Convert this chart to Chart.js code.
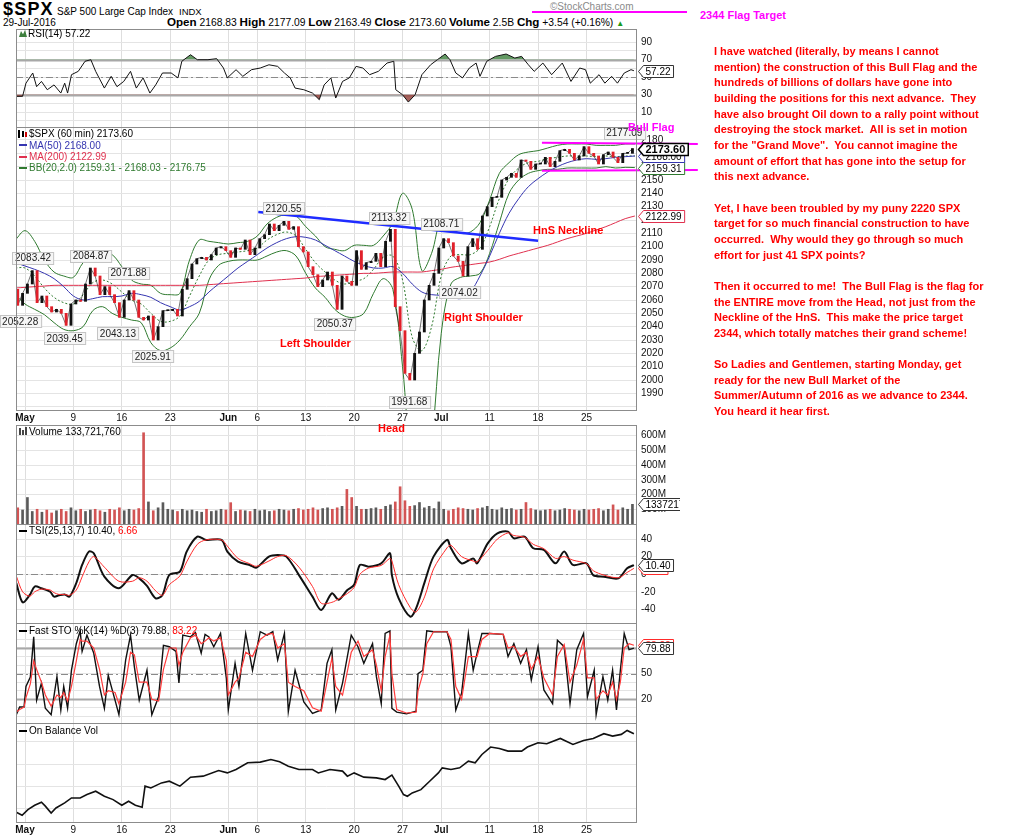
<!DOCTYPE html>
<html>
<head>
<meta charset="utf-8">
<title>$SPX S&amp;P 500 Large Cap Index - 60 min</title>
<script src="https://cdn.jsdelivr.net/npm/chart.js@4.4.1/dist/chart.umd.min.js"></script>
<style>
  html, body { margin: 0; padding: 0; background: #fff; }
  #page { position: relative; width: 1024px; height: 837px; overflow: hidden;
          font-family: "Liberation Sans", Arial, sans-serif; color: #000; }
  #page canvas { position: absolute; left: 0; }
  .txt { position: absolute; white-space: nowrap; font-size: 10px; line-height: 12px; }
  .mk { display: inline-block; width: 8px; height: 2px; vertical-align: middle; margin: 0 2px 1px 0; }
  .note { position: absolute; white-space: nowrap; font-weight: bold; font-size: 11px; line-height: 13px; color: #f00; }
  .pink { color: #ff00ff; }
  #story { position: absolute; left: 714px; top: 44px; font-weight: bold; font-size: 11px;
           line-height: 15.65px; color: #f00; white-space: pre; }
</style>
</head>
<body>
<div id="page">
  <!-- header -->
  <div class="txt" style="left:3px;top:0px;font-size:18px;line-height:19px;font-weight:bold;letter-spacing:1.2px">$SPX</div>
  <div class="txt" style="left:57px;top:6px;font-size:10px">S&amp;P 500 Large Cap Index</div>
  <div class="txt" style="left:179px;top:6px;font-size:9.5px">INDX</div>
  <div class="txt" style="left:3px;top:16.5px">29-Jul-2016</div>
  <div class="txt" style="left:167px;top:15px;font-size:10.3px;line-height:14px"><b style="font-size:11.6px">Open</b> 2168.83 <b style="font-size:11.6px">High</b> 2177.09 <b style="font-size:11.6px">Low</b> 2163.49 <b style="font-size:11.6px">Close</b> 2173.60 <b style="font-size:11.6px">Volume</b> 2.5B <b style="font-size:11.6px">Chg</b> +3.54 (+0.16%) <span style="color:#1a9a1a;font-size:8px">&#9650;</span></div>
  <div class="txt" style="left:550px;top:1px;color:#8a8a8a">&copy;StockCharts.com</div>
  <div style="position:absolute;left:532px;top:11px;width:155px;height:2px;background:#ff00ff"></div>
  <div class="note pink" style="left:700px;top:8.5px">2344 Flag Target</div>

  <canvas id="rsiChart" width="700" height="98" style="top:29px"></canvas>
  <canvas id="priceChart" width="720" height="297" style="top:127px"></canvas>
  <canvas id="volumeChart" width="680" height="99" style="top:425px"></canvas>
  <canvas id="tsiChart" width="700" height="99" style="top:524px"></canvas>
  <canvas id="stoChart" width="700" height="100" style="top:623px"></canvas>
  <canvas id="obvChart" width="700" height="113" style="top:723px"></canvas>

  <!-- panel legends -->
  <span style="position:absolute;left:19px;top:30px;width:8px;height:7px;background:#3d7f3d;clip-path:polygon(0 100%,25% 15%,50% 60%,75% 0,100% 100%)"></span>
  <div class="txt" style="left:28px;top:28px">RSI(14) 57.22</div>

  <span style="position:absolute;left:18px;top:130px;width:2px;height:8px;background:#000"></span>
  <span style="position:absolute;left:22px;top:131px;width:2px;height:6px;background:#000"></span>
  <span style="position:absolute;left:25px;top:132px;width:2px;height:5px;background:#c00"></span>
  <div class="txt" style="left:29px;top:128px">$SPX (60 min) 2173.60</div>
  <div class="txt" style="left:19px;top:139.5px;color:#3535b0"><span class="mk" style="background:#3535b0"></span>MA(50) 2168.00</div>
  <div class="txt" style="left:19px;top:151px;color:#e0304e"><span class="mk" style="background:#e0304e"></span>MA(200) 2122.99</div>
  <div class="txt" style="left:19px;top:162px;color:#2f7a2f"><span class="mk" style="background:#2f7a2f"></span>BB(20,2.0) 2159.31 - 2168.03 - 2176.75</div>

  <span style="position:absolute;left:19px;top:428px;width:2px;height:7px;background:#444"></span>
  <span style="position:absolute;left:22px;top:430px;width:2px;height:5px;background:#444"></span>
  <span style="position:absolute;left:25px;top:427px;width:2px;height:8px;background:#444"></span>
  <div class="txt" style="left:29px;top:426px">Volume 133,721,760</div>
  <div class="txt" style="left:19px;top:525px"><span class="mk" style="background:#000"></span>TSI(25,13,7) 10.40, <span style="color:#f00">6.66</span></div>
  <div class="txt" style="left:19px;top:625px"><span class="mk" style="background:#000"></span>Fast STO %K(14) %D(3) 79.88, <span style="color:#f00">83.22</span></div>
  <div class="txt" style="left:19px;top:725px"><span class="mk" style="background:#000"></span>On Balance Vol</div>

  <!-- chart notes -->
  <div class="note" style="left:280px;top:336.5px">Left Shoulder</div>
  <div class="note" style="left:444px;top:310.5px">Right Shoulder</div>
  <div class="note" style="left:533px;top:223.5px">HnS Neckline</div>
  <div class="note" style="left:378px;top:421.5px">Head</div>
  <div class="note pink" style="left:628px;top:120.5px">Bull Flag</div>

  <div id="story">I have watched (literally, by means I cannot
mention) the construction of this Bull Flag and the
hundreds of billions of dollars have gone into
building the positions for this next advance.  They
have also brought Oil down to a rally point without
destroying the stock market.  All is set in motion
for the "Grand Move".  You cannot imagine the
amount of effort that has gone into the setup for
this next advance.

Yet, I have been troubled by my puny 2220 SPX
target for so much financial construction to have
occurred.  Why would they go through so much
effort for just 41 SPX points?

Then it occurred to me!  The Bull Flag is the flag for
the ENTIRE move from the Head, not just from the
Neckline of the HnS.  This make the price target
2344, which totally matches their grand scheme!

So Ladies and Gentlemen, starting Monday, get
ready for the new Bull Market of the
Summer/Autumn of 2016 as we advance to 2344.
You heard it hear first.</div>
</div>

<script>
const FONT = '"Liberation Sans", Arial, sans-serif';
const DAY_MIN = -0.93;
const DAY_MAX = 63.22;
const PLOT_LEFT = 16;
const PLOT_RIGHT = 637;

// trading-day index: 0 = Mon 2 May 2016, -1 = Fri 29 Apr
const tickDays = [0, 5, 10, 15, 21, 24, 29, 34, 39, 43, 48, 53, 58];
const tickLabels = ['May', '9', '16', '23', 'Jun', '6', '13', '20', '27', 'Jul', '11', '18', '25'];
const monthLabels = ['May', 'Jun', 'Jul'];

// $SPX, two readings per session (midday, close), 29 Apr .. 29 Jul
const spxFirstOpen = 2068;
const spxClose = [
  2056, 2065,
  2072, 2082, 2058, 2063, 2055, 2051, 2053, 2050, 2041, 2057,
  2060, 2059, 2072, 2084, 2078, 2064, 2070, 2064, 2058, 2047,
  2060, 2067, 2060, 2047, 2045, 2048, 2030, 2040, 2052, 2052,
  2053, 2048, 2068, 2076, 2087, 2091, 2092, 2090, 2094, 2099,
  2100, 2097, 2092, 2099, 2098, 2105, 2094, 2099,
  2106, 2109, 2117, 2112, 2116, 2119, 2113, 2115, 2100, 2096,
  2085, 2079, 2070, 2075, 2081, 2071, 2053, 2078, 2074, 2071,
  2097, 2083, 2088, 2089, 2095, 2085, 2104, 2113, 2055, 2037,
  2005, 2000, 2020, 2036, 2060, 2071, 2080, 2099, 2106, 2103,
  2093, 2089, 2078, 2100, 2106, 2098, 2123, 2130,
  2137, 2137, 2150, 2152, 2155, 2152, 2165, 2164, 2158, 2162,
  2162, 2167, 2160, 2164, 2172, 2173, 2170, 2165, 2168, 2175,
  2170, 2168, 2162, 2169, 2171, 2167, 2163, 2170, 2170, 2173.6,
];

// volume in millions, same half-session bars
const volume = [
  110, 95,
  180, 85, 100, 80, 95, 75, 90, 100, 85, 110,
  90, 100, 85, 95, 100, 90, 80, 100, 95, 110,
  90, 100, 95, 105, 620, 150, 90, 110, 145, 100,
  95, 85, 100, 90, 95, 85, 80, 100, 85, 90,
  100, 95, 145, 85, 95, 90, 85, 100,
  90, 95, 85, 90, 100, 95, 90, 100, 105, 95,
  100, 110, 95, 105, 110, 100, 110, 120, 235, 180,
  120, 100, 100, 105, 110, 100, 120, 130, 150, 253,
  158, 120, 125, 146, 110, 120, 105, 150, 100, 90,
  100, 110, 105, 100, 95, 105, 110, 120,
  100, 95, 110, 100, 105, 95, 100, 146, 105, 95,
  90, 95, 100, 90, 95, 105, 100, 95, 90, 100,
  95, 100, 105, 90, 100, 130, 95, 110, 100, 133.72,
];

// overlays read once per session boundary, day -1 .. 63
const ma50 = [
  2088, 2085.5, 2083, 2080, 2076, 2070, 2063, 2060, 2061, 2062.5, 2062.5, 2063, 2065,
  2064, 2062, 2058, 2055, 2052.5, 2055, 2059, 2066, 2072, 2078, 2084, 2089, 2094,
  2099, 2103, 2106, 2107.5, 2107, 2105, 2101, 2097, 2093, 2089, 2086, 2084, 2084,
  2085, 2080, 2072, 2066, 2064, 2063.5, 2062.5, 2061, 2066, 2078, 2093, 2110, 2125,
  2136, 2145, 2151, 2156, 2160, 2163, 2165, 2166, 2165.5, 2166, 2167, 2167.5, 2168,
];
const ma200 = [
  2069, 2069.5, 2070, 2070.5, 2071, 2071, 2071, 2071, 2071, 2071, 2071, 2071, 2071,
  2071, 2071, 2071, 2071, 2071, 2071, 2071, 2071.5, 2072, 2072.5, 2073, 2073.5, 2074,
  2074.5, 2075, 2075.5, 2076, 2076.5, 2077.5, 2078, 2078.5, 2079, 2079.5, 2080, 2080,
  2080.5, 2081, 2081, 2081, 2081, 2082, 2083, 2084.5, 2085.5, 2086.5, 2087.5, 2088.5,
  2090.5, 2093, 2095, 2097, 2099, 2101, 2103.5, 2106, 2108, 2110, 2112.5, 2115, 2118,
  2121, 2123,
];
const bbUpper = [
  2105, 2112, 2104, 2090, 2081, 2078, 2077, 2088, 2094, 2095, 2094, 2085, 2075,
  2072, 2071, 2065, 2064, 2065, 2090, 2105, 2104, 2103, 2102, 2103, 2104, 2108,
  2117, 2122, 2124, 2123, 2115, 2108, 2100, 2098, 2097, 2101, 2101, 2101, 2108,
  2118, 2140, 2128, 2082, 2095, 2120, 2114, 2110, 2111, 2118, 2135, 2155, 2163,
  2169, 2171, 2172, 2174, 2176, 2177, 2177, 2177, 2176, 2176, 2176, 2177, 2177,
];
const bbMiddle = [
  2084, 2084, 2078, 2069, 2062, 2058, 2057, 2064, 2073, 2075, 2072, 2066, 2060,
  2057, 2050, 2044, 2044, 2048, 2063, 2078, 2090, 2094, 2095, 2096, 2097, 2099,
  2105, 2109, 2111, 2108, 2098, 2088, 2081, 2075, 2072, 2074, 2076, 2083, 2092,
  2093, 2075, 2032, 2022, 2040, 2078, 2093, 2094, 2094, 2099, 2115, 2136, 2151,
  2159, 2163, 2164, 2166, 2167, 2168, 2168, 2168, 2167.5, 2168, 2167.5, 2168, 2168,
];
const bbLower = [
  2064, 2057, 2053, 2049, 2043, 2038, 2037, 2040, 2052, 2055, 2050, 2047, 2045,
  2043, 2028, 2022, 2024, 2030, 2040, 2050, 2075, 2086, 2089, 2090, 2090, 2090,
  2093, 2096, 2097, 2093, 2080, 2069, 2062, 2053, 2048, 2047, 2050, 2065, 2076,
  2068, 2010, 1935, 1925, 1955, 2035, 2072, 2077, 2078, 2080, 2095, 2118, 2140,
  2150, 2155, 2157, 2158, 2158, 2159, 2159, 2159, 2159, 2160, 2159, 2159.5, 2159.3,
];

// price labels printed on the chart
const peakDays = [-0.5, 0.83, 4.1, 6.8, 9.6, 10.7, 13.2, 26.7, 32, 37.6, 39.7, 43, 44.9, 61.9];
const peakValues = [2052.28, 2083.42, 2039.45, 2084.87, 2043.13, 2071.88, 2025.91, 2120.55,
  2050.37, 2113.32, 1991.68, 2108.71, 2074.02, 2177.09];
const peakBelow = [true, false, true, false, true, false, true, false, true, false, true, false, true, false];

// hand-drawn lines
const necklineDays = [24.1, 53];
const necklineValues = [2126, 2104.5];
const flagDays = [53.4, 69.5];
const flagTop = [2178, 2177];
const flagBottom = [2157, 2157.5];

// RSI(14)
const rsiDays = [-0.9, -0.25, 0.1, 0.8, 1.2, 1.7, 2.3, 3, 3.7, 4.1, 4.4, 4.8, 5.5, 6.2, 6.8,
  7.3, 8.2, 8.9, 9.5, 10.2, 10.9, 11.5, 12.2, 12.9, 13.5, 14.2, 15.1, 15.8, 16.2, 17.1, 17.8,
  18.9, 19.8, 20.5, 20.9, 21.8, 22.5, 23.4, 24.3, 25.2, 26.1, 26.8, 27.4, 27.9, 28.8, 29.7,
  30.4, 30.9, 31.6, 32.1, 32.8, 33.5, 34.2, 34.9, 35.6, 36.5, 37.4, 38.1, 38.3, 39, 39.6,
  40.3, 41, 41.9, 42.6, 43.4, 43.9, 44.5, 45.2, 45.9, 46.6, 47, 47.7, 48.6, 49.7, 50.6,
  51.3, 52, 52.6, 53.5, 54.4, 55.5, 56.4, 57.3, 57.9, 58.4, 59.3, 59.9, 60.6, 61.2, 61.9,
  62.6, 62.9];
const rsi = [27.9, 28, 43, 54.6, 39, 45, 35.5, 41, 31.7, 43, 31.7, 52.7, 56.5, 68, 69.8,
  56.5, 37.4, 50.8, 39, 45, 56.5, 37.4, 49, 31.7, 41, 54.6, 54.6, 49, 68, 75.5, 69.8,
  69.8, 71, 60.3, 49, 58.4, 50.8, 58.4, 60.3, 64, 62.2, 54.6, 49, 37.4, 35.5, 31.7,
  24.1, 41, 49, 26, 45, 49, 62.2, 60.3, 52.7, 56.5, 66, 68, 35.5, 29.8, 21.4,
  29.8, 52.7, 64, 69.8, 76.3, 69.8, 54.6, 49, 60.3, 66, 50.8, 68, 73.6, 76.3, 71.7,
  73.6, 64, 56.5, 66, 52.7, 66, 45, 60.3, 58.4, 43, 52.7, 43, 50.8, 43, 54.6,
  58.4, 57.22];

// TSI(25,13,7) and its signal line
const tsiDays = [-0.9, -0.25, 0.5, 1, 1.7, 2.6, 3, 3.5, 4.1, 4.6, 5.3, 5.9, 6.6, 7.1, 8.2,
  9.7, 11.1, 11.8, 12.6, 13.5, 14.2, 14.9, 16, 16.7, 17.8, 18.7, 20.3, 20.9, 22, 23.2,
  23.9, 25.2, 26.1, 27, 28.3, 29.7, 30.6, 31.7, 32.4, 33.3, 34, 34.6, 35.5, 36.8, 37.7,
  37.9, 38.6, 39.8, 40.4, 41.3, 42.2, 43.6, 44, 45.1, 46.3, 46.7, 47.8, 48.8, 49.9, 50.5,
  51.6, 52.5, 53.6, 54.8, 55.7, 56.6, 58, 58.7, 59.8, 61.3, 62.2, 62.9];
const tsi = [-10, -32, -23.6, -14, -16, -20, -25.5, -24, -23, -25.5, -10, 10.5, 25.7, 23.8, -2.8,
  -16, -0.9, -4.7, -13.4, -27.4, -23.6, -0.9, 3, 25.7, 42.7, 39, 39, 25.7, 14.3, 10.5,
  7.5, 20, 21.9, 20, -1, -25.5, -40.7, -21.7, -29, -18, -12, 10.5, 8.6, 12.4, 23.8,
  -1, -27.4, -48.3, -38.8, -8.5, 20, 39, 29.5, 12.4, 18, 12.4, 35, 46.5, 48.4, 40.8,
  42.7, 29.5, 27.6, 12.4, 25.7, 10.5, 12.4, -1, -2.8, -4.7, 6.7, 10.4];
const tsiSignal = [-2, -20, -25, -20, -17, -18, -21, -23, -23, -24, -18, -3, 14, 20, 8,
  -8, -8, -4, -8, -19, -24, -12, -2, 14, 34, 39, 39, 32, 18, 12,
  9, 15, 20, 21, 8, -14, -33, -32, -28, -22, -15, 0, 7, 10, 18,
  15, -12, -38, -43, -25, 6, 30, 33, 20, 15, 14, 27, 40, 47, 44,
  42, 34, 29, 18, 20, 16, 12, 4, -1, -4, 2, 6.66];

// Fast STO %K(14) %D(3)
const stoDays = [-0.9, -0.55, -0.1, 0.1, 0.55, 0.9, 1.2, 1.7, 2.1, 2.7,
  3.3, 3.7, 4, 4.4, 4.8, 5.3, 5.7, 5.9, 6.4, 7.1,
  7.7, 8.2, 8.6, 9.3, 9.7, 10.4, 10.9, 11.3, 11.8, 12.6,
  13.1, 13.8, 14.3, 14.9, 15.6, 15.9, 16.3, 17.1, 17.6, 18.2,
  18.6, 19, 19.5, 20.2, 20.8, 21, 21.7, 22.1, 22.8, 23.5,
  24.3, 25, 25.6, 26.1, 26.8, 27.2, 27.9, 28.8, 29.7, 30.6,
  31.2, 31.7, 32.1, 32.8, 33.7, 34.4, 35, 35.9, 36.3, 36.8,
  37.2, 37.7, 37.9, 38.4, 39.4, 40.4, 40.6, 41.1, 41.5, 42.2,
  43.6, 44, 44.5, 45.1, 45.8, 46.3, 46.7, 47.2, 48, 49.4,
  49.9, 50.5, 51.2, 51.8, 52.3, 53, 53.6, 54.5, 55, 55.7,
  56.3, 57, 57.7, 58.1, 58.8, 59, 59.7, 60.2, 60.7, 61.1,
  61.5, 61.9, 62.4, 62.9];
const stoK = [2, 11, 11, 35, 46, 93, 19, 39, 9.5, 2,
  46.5, 7.5, 35, 9.5, 54, 85, 100, 76, 95, 74,
  35, 9.5, 48, 19, 2, 66, 95, 58, 19, 54,
  2, 23, 83, 81.5, 76, 39, 95, 93, 98, 74,
  96, 93, 81.5, 97, 44.5, 7.5, 62, 35, 97, 54,
  99, 95, 99, 66, 97, 5.6, 54, 17, 3.6, 7.5,
  62, 78, 7.5, 39, 95, 81.5, 62, 85, 46.5, 15,
  97, 100, 9.5, 5, 3, 6, 50, 54, 100, 99,
  99, 81.5, 7.5, 27, 97, 54, 74, 97, 97, 96,
  70, 85, 62, 78, 42.6, 81.5, 31, 15, 89, 81.5,
  15, 78, 97, 23, 54, 2, 46.5, 19, 54, 7.5,
  54, 97, 78, 79.88];
const stoD = [5, 8, 11, 22, 38, 65, 55, 40, 25, 12,
  25, 22, 28, 18, 35, 65, 90, 88, 88, 80,
  55, 25, 30, 28, 15, 40, 75, 72, 40, 40,
  20, 18, 55, 80, 80, 60, 75, 92, 95, 85,
  88, 92, 88, 92, 65, 25, 40, 45, 75, 70,
  90, 96, 97, 80, 85, 40, 35, 30, 10, 6,
  40, 68, 35, 25, 75, 88, 70, 78, 60, 30,
  70, 95, 50, 8, 4, 5, 30, 50, 85, 99,
  99, 90, 35, 20, 70, 70, 70, 90, 97, 96,
  80, 82, 70, 75, 55, 70, 45, 25, 70, 84,
  40, 60, 90, 45, 45, 20, 30, 25, 40, 20,
  40, 80, 85, 83.22];

// On Balance Volume (relative units, no scale printed)
const obvDays = [-0.9, -0.3, 0.3, 1, 1.7, 2.1, 2.7, 3.2, 4.1, 4.8,
  5.7, 6.4, 7.3, 8.2, 9.1, 10, 10.7, 11.4, 12.1, 12.4,
  13, 14.1, 14.9, 16, 17.1, 18.4, 20, 20.9, 21.8, 23,
  24.3, 25.4, 26.3, 27.2, 28.3, 29.7, 30.3, 31.5, 32.8, 33.3,
  34, 35, 36.3, 37.2, 37.9, 38.6, 39.1, 39.5, 40, 40.9,
  41.8, 42.7, 43.1, 44, 44.9, 45.8, 46.5, 47.2, 48.1, 49,
  49.9, 51.3, 51.9, 53, 53.9, 55.3, 56.6, 57.7, 58.7, 59.8,
  60.7, 61.6, 62.2, 62.9];
const obv = [9.8, 6.8, 12.5, 16.9, 20, 16, 9.1, 14.2, 19.3, 24.3,
  24.3, 27.7, 31.1, 26, 22.6, 16.9, 21, 16.9, 14.9, 36.2,
  34.4, 39.5, 41.2, 36.2, 45.3, 46.3, 52, 49.6, 53, 59.8,
  60.5, 63.1, 60.8, 56.4, 53, 53, 49.6, 53, 51.4, 46.3,
  49.6, 45.3, 44.6, 42.9, 47.3, 36.2, 27.7, 26, 29.4, 32.7,
  41.2, 49.6, 54.7, 53, 54.7, 61.5, 59.8, 68.2, 75.7, 74.3,
  71.6, 71.6, 75.7, 80, 79, 84.4, 78.3, 82.4, 84.4, 89.2,
  86.8, 88.5, 92.5, 89.2];

const RED = '#e0202a';
const UP = '#111';
const GREEN = '#2f7a2f';
const BLUE = '#3535b0';
const MA200_RED = '#e0304e';

const pts = (xs, ys) => ys.map((y, i) => ({ x: xs[i], y }));

// extra drawing: reference lines, frame, value tags, price labels, drawn lines
const panelExtras = {
  id: 'panelExtras',
  beforeDatasetsDraw(chart, args, opts) {
    const { ctx, chartArea: a } = chart;
    const y = chart.scales.y;
    (opts.refLines || []).forEach((r) => {
      const py = Math.round(y.getPixelForValue(r.value)) + 0.5;
      ctx.save();
      ctx.strokeStyle = r.color;
      ctx.lineWidth = r.width;
      ctx.setLineDash(r.dash || []);
      ctx.beginPath();
      ctx.moveTo(a.left, py);
      ctx.lineTo(a.right, py);
      ctx.stroke();
      ctx.restore();
    });
  },
  afterDatasetsDraw(chart, args, opts) {
    const { ctx } = chart;
    const { x, y } = chart.scales;
    (opts.segments || []).forEach((s) => {
      ctx.save();
      ctx.strokeStyle = s.color;
      ctx.lineWidth = s.width;
      ctx.beginPath();
      ctx.moveTo(x.getPixelForValue(s.days[0]), y.getPixelForValue(s.values[0]));
      ctx.lineTo(x.getPixelForValue(s.days[1]), y.getPixelForValue(s.values[1]));
      ctx.stroke();
      ctx.restore();
    });
    if (opts.peaks) {
      ctx.save();
      ctx.font = '10px ' + FONT;
      ctx.textAlign = 'center';
      ctx.textBaseline = 'middle';
      opts.peaks.days.forEach((d, i) => {
        const text = opts.peaks.values[i].toFixed(2);
        const px = x.getPixelForValue(d);
        const py = y.getPixelForValue(opts.peaks.values[i]) + (opts.peaks.below[i] ? 11 : -11);
        const w = ctx.measureText(text).width + 5;
        ctx.fillStyle = '#f6f6f6';
        ctx.strokeStyle = '#c4c4c4';
        ctx.lineWidth = 1;
        ctx.fillRect(Math.round(px - w / 2) + 0.5, Math.round(py - 6) + 0.5, w, 12);
        ctx.strokeRect(Math.round(px - w / 2) + 0.5, Math.round(py - 6) + 0.5, w, 12);
        ctx.fillStyle = '#222';
        ctx.fillText(text, px, py + 0.5);
      });
      ctx.restore();
    }
  },
  afterDraw(chart, args, opts) {
    const { ctx, chartArea: a } = chart;
    const y = chart.scales.y;
    ctx.save();
    ctx.strokeStyle = '#8c8c8c';
    ctx.lineWidth = 1;
    ctx.strokeRect(a.left + 0.5, a.top + 0.5, a.right - a.left - 1, a.bottom - a.top);
    (opts.tags || []).forEach((t) => {
      const py = Math.round(y.getPixelForValue(t.value)) + 0.5;
      ctx.font = (t.bold ? 'bold 11px ' : '10px ') + FONT;
      const w = ctx.measureText(t.text).width + 5;
      const x0 = a.right + 1.5;
      ctx.beginPath();
      ctx.moveTo(x0, py);
      ctx.lineTo(x0 + 5, py - 6);
      ctx.lineTo(x0 + 5 + w, py - 6);
      ctx.lineTo(x0 + 5 + w, py + 6);
      ctx.lineTo(x0 + 5, py + 6);
      ctx.closePath();
      ctx.fillStyle = '#fff';
      ctx.fill();
      ctx.strokeStyle = t.color;
      ctx.lineWidth = t.bold ? 1.5 : 1;
      ctx.stroke();
      ctx.fillStyle = t.textColor || '#000';
      ctx.textAlign = 'left';
      ctx.textBaseline = 'middle';
      ctx.fillText(t.text, x0 + 7, py + 0.5);
    });
    ctx.restore();
  },
};
Chart.register(panelExtras);

// keep the plot rectangles exactly where the panels sit: no label overhang padding
function noOverhang(s) {
  s.paddingTop = 0;
  s.paddingBottom = 0;
  s.paddingLeft = 0;
  s.paddingRight = 0;
}

function dayAxis(showLabels) {
  return {
    type: 'linear',
    min: DAY_MIN,
    max: DAY_MAX,
    offset: false,
    afterBuildTicks: (s) => { s.ticks = tickDays.map((v) => ({ value: v })); },
    afterFit: (s) => { s.height = showLabels ? 14 : 0; noOverhang(s); },
    grid: { color: '#dedede', drawTicks: false, offset: false },
    border: { display: false },
    ticks: {
      display: showLabels,
      autoSkip: false,
      maxRotation: 0,
      padding: 2,
      color: '#111',
      callback: (v, i) => tickLabels[i],
      font: (c) => ({
        family: FONT,
        size: 10,
        weight: monthLabels.includes(tickLabels[c.index]) ? 'bold' : 'normal',
      }),
    },
  };
}

function valueAxis(min, max, tickValues, label) {
  return {
    position: 'right',
    min,
    max,
    afterBuildTicks: (s) => { s.ticks = tickValues.map((v) => ({ value: v })); },
    afterFit: (s) => { s.width = s.chart.width - PLOT_RIGHT; noOverhang(s); },
    grid: { color: '#e4e4e4', drawTicks: false },
    border: { display: false },
    ticks: {
      display: !!label,
      autoSkip: false,
      padding: 4,
      color: '#111',
      font: { family: FONT, size: 10 },
      callback: label || (() => ''),
    },
  };
}

function panelOptions(xAxis, yAxis, extras) {
  return {
    responsive: false,
    animation: false,
    events: [],
    layout: { padding: { left: PLOT_LEFT, right: 0, top: 0, bottom: 0 } },
    plugins: {
      legend: { display: false },
      tooltip: { enabled: false },
      panelExtras: extras,
    },
    scales: { x: xAxis, y: yAxis },
  };
}

function lineSet(data, color, width, extra) {
  return Object.assign({
    type: 'line',
    data,
    borderColor: color,
    borderWidth: width,
    pointRadius: 0,
    tension: 0,
    fill: false,
  }, extra || {});
}

document.addEventListener('DOMContentLoaded', () => {
  const halfDay = spxClose.map((_, i) => i * 0.5 - 0.75);
  const bandDays = ma50.map((_, i) => i - 1);
  const opens = spxClose.map((c, i) => (i ? spxClose[i - 1] : spxFirstOpen));
  const barColors = spxClose.map((c, i) => (c < opens[i] ? RED : UP));
  const volColors = spxClose.map((c, i) => (c < opens[i] ? '#d25454' : '#5a5a5a'));

  // RSI
  new Chart(document.getElementById('rsiChart'), {
    type: 'line',
    data: {
      datasets: [
        lineSet(pts(rsiDays, rsi), '#111', 1, {
          fill: { target: { value: 70 }, above: 'rgba(70,135,70,0.85)', below: 'rgba(0,0,0,0)' },
        }),
        lineSet(pts(rsiDays, rsi), 'rgba(0,0,0,0)', 0, {
          fill: { target: { value: 30 }, above: 'rgba(0,0,0,0)', below: 'rgba(150,70,65,0.85)' },
        }),
      ],
    },
    options: panelOptions(
      dayAxis(false),
      valueAxis(-7.1, 104.9, [0, 10, 20, 30, 40, 50, 60, 70, 80, 90],
        (v) => ([10, 30, 50, 70, 90].includes(v) ? String(v) : '')),
      {
        refLines: [
          { value: 70, color: '#a8a8a8', width: 2 },
          { value: 30, color: '#a8a8a8', width: 2 },
          { value: 50, color: '#8a8a8a', width: 1, dash: [7, 3, 2, 3] },
        ],
        tags: [{ value: 57.22, text: '57.22', color: '#333' }],
      }
    ),
  });

  // price panel
  new Chart(document.getElementById('priceChart'), {
    type: 'bar',
    data: {
      datasets: [
        {
          type: 'bar',
          data: spxClose.map((c, i) => ({ x: halfDay[i], y: [opens[i], c] })),
          backgroundColor: barColors,
          barThickness: 2.2,
          minBarLength: 1,
          grouped: false,
          order: 0,
        },
        lineSet(pts(halfDay, spxClose), 'rgba(0,0,0,0.55)', 1, { order: 1 }),
        lineSet(pts(bandDays, ma50), BLUE, 1, { tension: 0.35, order: 2 }),
        lineSet(pts(bandDays, ma200), MA200_RED, 1, { tension: 0.35, order: 2 }),
        lineSet(pts(bandDays, bbUpper), GREEN, 1, { tension: 0.35, order: 3 }),
        lineSet(pts(bandDays, bbLower), GREEN, 1, { tension: 0.35, order: 3 }),
        lineSet(pts(bandDays, bbMiddle), GREEN, 1, { tension: 0.35, borderDash: [2, 2], order: 3 }),
      ],
    },
    options: panelOptions(
      dayAxis(true),
      valueAxis(1977.5, 2189.75,
        [1980, 1990, 2000, 2010, 2020, 2030, 2040, 2050, 2060, 2070, 2080, 2090, 2100,
          2110, 2120, 2130, 2140, 2150, 2160, 2170, 2180],
        (v) => (v === 1980 ? '' : String(v))),
      {
        segments: [
          { days: necklineDays, values: necklineValues, color: '#1f2cff', width: 2.5 },
          { days: flagDays, values: flagTop, color: '#ff00ff', width: 2 },
          { days: flagDays, values: flagBottom, color: '#ff00ff', width: 2 },
        ],
        peaks: { days: peakDays, values: peakValues, below: peakBelow },
        tags: [
          { value: 2122.99, text: '2122.99', color: MA200_RED },
          { value: 2159.31, text: '2159.31', color: GREEN },
          { value: 2168.0, text: '2168.00', color: BLUE },
          { value: 2173.6, text: '2173.60', color: '#000', bold: true },
        ],
      }
    ),
  });

  // volume
  new Chart(document.getElementById('volumeChart'), {
    type: 'bar',
    data: {
      datasets: [{
        data: pts(halfDay, volume),
        backgroundColor: volColors,
        barThickness: 2,
        grouped: false,
      }],
    },
    options: panelOptions(
      dayAxis(false),
      valueAxis(0, 672.6, [100, 200, 300, 400, 500, 600], (v) => v + 'M'),
      { tags: [{ value: 133.72, text: '133721760', color: '#333' }] }
    ),
  });

  // TSI
  new Chart(document.getElementById('tsiChart'), {
    type: 'line',
    data: {
      datasets: [
        lineSet(pts(tsiDays, tsiSignal), '#ff2a2a', 1, { tension: 0.3 }),
        lineSet(pts(tsiDays, tsi), '#111', 2, { tension: 0.3 }),
      ],
    },
    options: panelOptions(
      dayAxis(false),
      valueAxis(-55.5, 57.1, [-40, -20, 0, 20, 40], (v) => String(v)),
      {
        refLines: [{ value: 0, color: '#8a8a8a', width: 1, dash: [7, 3, 2, 3] }],
        tags: [
          { value: 6.66, text: '6.66', color: '#ff2a2a', textColor: '#ff2a2a' },
          { value: 10.4, text: '10.40', color: '#333' },
        ],
      }
    ),
  });

  // Fast stochastics
  new Chart(document.getElementById('stoChart'), {
    type: 'line',
    data: {
      datasets: [
        lineSet(pts(stoDays, stoD), '#ff3b3b', 1.2),
        lineSet(pts(stoDays, stoK), '#111', 1.4),
      ],
    },
    options: panelOptions(
      dayAxis(false),
      valueAxis(-7.7, 109.2, [0, 10, 20, 30, 40, 50, 60, 70, 80, 90, 100],
        (v) => ([20, 50, 80].includes(v) ? String(v) : '')),
      {
        refLines: [
          { value: 80, color: '#a8a8a8', width: 2 },
          { value: 20, color: '#a8a8a8', width: 2 },
          { value: 50, color: '#8a8a8a', width: 1, dash: [7, 3, 2, 3] },
        ],
        tags: [
          { value: 83.22, text: '83.22', color: '#ff2a2a', textColor: '#ff2a2a' },
          { value: 79.88, text: '79.88', color: '#333' },
        ],
      }
    ),
  });

  // On Balance Volume
  new Chart(document.getElementById('obvChart'), {
    type: 'line',
    data: { datasets: [lineSet(pts(obvDays, obv), '#111', 1.6)] },
    options: panelOptions(
      dayAxis(true),
      valueAxis(0, 100, [13.5, 36, 58.5, 81], null),
      {}
    ),
  });
});
</script>
</body>
</html>
